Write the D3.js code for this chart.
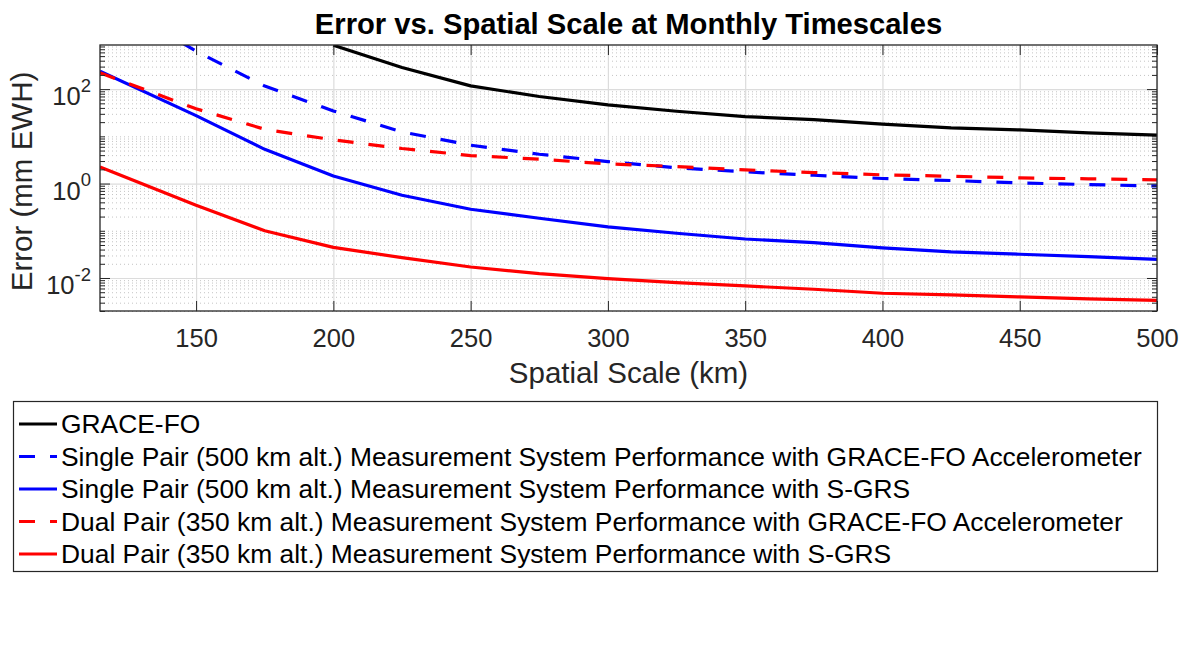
<!DOCTYPE html>
<html><head><meta charset="utf-8">
<script src="https://cdn.jsdelivr.net/npm/d3@7"></script>
<style>
body{margin:0;background:#fff}
svg{display:block;font-family:"Liberation Sans",Arial,Helvetica,sans-serif}
</style>
</head><body>
<svg id="chart" width="1192" height="651"></svg>
<script>
// ---------------- data ----------------
const spatialScale = [115,125,150,175,200,225,250,275,300,325,350,375,400,425,450,475,500];
const graceFO     = [null,null,null,null,850,287,117,69.7,46.4,34,26.2,22.7,18.1,15.1,13.7,11.8,10.6];
const singleAcc   = [null,4700,635,116,34.5,12.4,6.49,4.18,2.92,2.15,1.77,1.50,1.28,1.16,1.03,0.95,0.89];
const singleSGRS  = [240,null,27.5,5.3,1.45,0.566,0.286,0.184,0.121,0.0887,0.067,0.0562,0.0434,0.0357,0.0318,0.0284,0.0249];
const dualAcc     = [221,null,38.4,14.1,8.4,5.52,3.92,3.28,2.61,2.29,1.95,1.71,1.53,1.43,1.32,1.26,1.2];
const dualSGRS    = [2.25,null,0.348,0.1,0.0445,0.027,0.0171,0.0124,0.0097,0.008,0.0068,0.00577,0.00475,0.00438,0.00397,0.0036,0.00337];

const seriesNames = [
  "GRACE-FO",
  "Single Pair (500 km alt.) Measurement System Performance with GRACE-FO Accelerometer",
  "Single Pair (500 km alt.) Measurement System Performance with S-GRS",
  "Dual Pair (350 km alt.) Measurement System Performance with GRACE-FO Accelerometer",
  "Dual Pair (350 km alt.) Measurement System Performance with S-GRS"
];
const seriesValues = [graceFO, singleAcc, singleSGRS, dualAcc, dualSGRS];
const seriesColors = ["#000000", "#0000ff", "#0000ff", "#ff0000", "#ff0000"];
const seriesDashed = [false, true, false, true, false];

const xTickValues = [150,200,250,300,350,400,450,500];
const yTickValues = [0.01, 1, 100];
const yTickExponents = ["-2", "0", "2"];
const xDomain = [115, 500];
const yDomain = [0.002, 860];

const titleText = "Error vs. Spatial Scale at Monthly Timescales";
const xLabelText = "Spatial Scale (km)";
const yLabelText = "Error (mm EWH)";

// ---------------- layout ----------------
const L = 100, R = 1157, T = 45, B = 311;
const svg = d3.select("#chart");
const x = d3.scaleLinear().domain(xDomain).range([L, R]);
const y = d3.scaleLog().domain(yDomain).range([B, T]);

// minor y ticks (2..9 x 10^n and unlabeled decades)
const minorY = [];
for (let e = -3; e <= 3; e++) {
  for (let m = 1; m <= 9; m++) {
    const v = m * Math.pow(10, e);
    if (v >= yDomain[0] && v <= yDomain[1] && !yTickValues.some(t => Math.abs(t - v) / v < 1e-9)) minorY.push(v);
  }
}

const axisColor = "#262626";

// minor grid (dotted)
svg.append("g").attr("transform", `translate(${L},0)`)
  .call(d3.axisLeft(y).tickValues(minorY).tickSize(-(R - L)).tickFormat(""))
  .call(g => g.select(".domain").remove())
  .call(g => g.selectAll("line").attr("stroke", "#c4c4c4").attr("stroke-width", 1).attr("stroke-dasharray", "1,3"));

// major grid
svg.append("g").attr("transform", `translate(${L},0)`)
  .call(d3.axisLeft(y).tickValues(yTickValues).tickSize(-(R - L)).tickFormat(""))
  .call(g => g.select(".domain").remove())
  .call(g => g.selectAll("line").attr("stroke", "#dcdcdc").attr("stroke-width", 1.2));
svg.append("g").attr("transform", `translate(0,${B})`)
  .call(d3.axisBottom(x).tickValues(xTickValues).tickSize(-(B - T)).tickFormat(""))
  .call(g => g.select(".domain").remove())
  .call(g => g.selectAll("line").attr("stroke", "#dcdcdc").attr("stroke-width", 1.2));

// data lines
svg.append("defs").append("clipPath").attr("id", "plotClip")
  .append("rect").attr("x", L).attr("y", T).attr("width", R - L).attr("height", B - T);

const line = d3.line().x(d => x(d[0])).y(d => y(d[1]));
const plotG = svg.append("g").attr("clip-path", "url(#plotClip)");
seriesValues.forEach((vals, i) => {
  const pts = spatialScale.map((s, k) => [s, vals[k]]).filter(p => p[1] != null);
  plotG.append("path").datum(pts)
    .attr("d", line)
    .attr("fill", "none")
    .attr("stroke", seriesColors[i])
    .attr("stroke-width", 3.2)
    .attr("stroke-linejoin", "round")
    .attr("stroke-dasharray", seriesDashed[i] ? "16,15" : null);
});

// ticks (inward) on all sides
function styleTicks(g) {
  g.select(".domain").remove();
  g.selectAll("line").attr("stroke", axisColor).attr("stroke-width", 1);
}
svg.append("g").attr("transform", `translate(0,${B})`)
  .call(d3.axisBottom(x).tickValues(xTickValues).tickSize(-10).tickFormat("")).call(styleTicks);
svg.append("g").attr("transform", `translate(0,${T})`)
  .call(d3.axisTop(x).tickValues(xTickValues).tickSize(-10).tickFormat("")).call(styleTicks);
svg.append("g").attr("transform", `translate(${L},0)`)
  .call(d3.axisLeft(y).tickValues(yTickValues).tickSize(-10).tickFormat("")).call(styleTicks);
svg.append("g").attr("transform", `translate(${R},0)`)
  .call(d3.axisRight(y).tickValues(yTickValues).tickSize(-10).tickFormat("")).call(styleTicks);
svg.append("g").attr("transform", `translate(${L},0)`)
  .call(d3.axisLeft(y).tickValues(minorY).tickSize(-5).tickFormat("")).call(styleTicks);
svg.append("g").attr("transform", `translate(${R},0)`)
  .call(d3.axisRight(y).tickValues(minorY).tickSize(-5).tickFormat("")).call(styleTicks);

// box
svg.append("rect").attr("x", L).attr("y", T).attr("width", R - L).attr("height", B - T)
  .attr("fill", "none").attr("stroke", axisColor).attr("stroke-width", 1.3);

// x tick labels
svg.append("g").attr("transform", `translate(0,${B})`)
  .call(d3.axisBottom(x).tickValues(xTickValues).tickSize(0).tickPadding(17.5).tickFormat(d3.format("d")))
  .call(g => g.select(".domain").remove())
  .call(g => g.selectAll("text").attr("font-size", "25.5px").attr("fill", axisColor).attr("font-family", null));

// y tick labels with superscripts
svg.append("g").attr("transform", `translate(${L},0)`)
  .call(d3.axisLeft(y).tickValues(yTickValues).tickSize(0).tickPadding(9).tickFormat(""))
  .call(g => g.select(".domain").remove())
  .call(g => g.selectAll("text")
    .attr("font-family", null).attr("fill", axisColor).attr("font-size", "25.5px")
    .attr("dy", "15.7px")
    .each(function(d, i) {
      const t = d3.select(this);
      t.append("tspan").text("10");
      t.append("tspan").attr("dy", "-13.3px").attr("font-size", "18.5px").text(yTickExponents[i]);
    }));

// title and axis labels
svg.append("text").attr("x", (L + R) / 2).attr("y", 34).attr("text-anchor", "middle")
  .attr("font-size", "29.2px").attr("font-weight", "bold").attr("fill", "#000").text(titleText);
svg.append("text").attr("x", (L + R) / 2).attr("y", 383).attr("text-anchor", "middle")
  .attr("font-size", "29.5px").attr("fill", axisColor).text(xLabelText);
svg.append("text").attr("transform", `translate(31.5,181.5) rotate(-90)`).attr("text-anchor", "middle")
  .attr("font-size", "29.5px").attr("fill", axisColor).text(yLabelText);

// legend
const legX = 13.5, legY = 401.5, legW = 1144, legH = 170;
const leg = svg.append("g");
leg.append("rect").attr("x", legX).attr("y", legY).attr("width", legW).attr("height", legH)
  .attr("fill", "#fff").attr("stroke", axisColor).attr("stroke-width", 1.2);
const rowY = d3.scalePoint().domain(d3.range(seriesNames.length)).range([424, 554]);
seriesNames.forEach((name, i) => {
  const yy = rowY(i);
  leg.append("line").attr("x1", 19).attr("x2", 57).attr("y1", yy).attr("y2", yy)
    .attr("stroke", seriesColors[i]).attr("stroke-width", 3.2)
    .attr("stroke-dasharray", seriesDashed[i] ? "16,15" : null);
  leg.append("text").attr("x", 61).attr("y", yy).attr("dy", "0.35em")
    .attr("font-size", "26.4px").attr("fill", "#000").text(name);
});
</script>
</body></html>
